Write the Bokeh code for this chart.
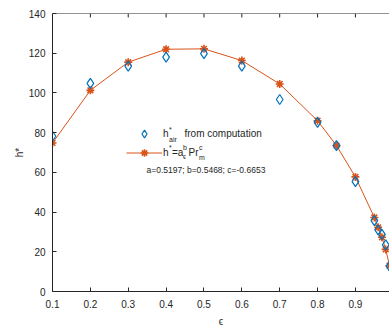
from bokeh.plotting import figure
from bokeh.models import (LinearAxis, FixedTicker, Label, Legend, LegendItem, Range1d, Span)
from bokeh.embed import file_html
from bokeh.resources import INLINE

# ---- data ----
eps = [0.1, 0.2, 0.3, 0.4, 0.5, 0.6, 0.7, 0.8, 0.85, 0.9, 0.95, 0.96, 0.97, 0.98, 0.99]
h_comp = [78.2, 104.8, 113.5, 118.0, 119.8, 113.5, 96.7, 85.2, 73.5, 55.3, 35.7, 31.0, 28.8, 23.5, 12.8]
h_fit = [74.8, 101.3, 115.5, 122.0, 122.2, 116.3, 104.5, 86.0, 73.5, 57.7, 37.3, 32.3, 27.3, 21.2, 13.0]
x_ticks = [0.1, 0.2, 0.3, 0.4, 0.5, 0.6, 0.7, 0.8, 0.9]
y_ticks = [0, 20, 40, 60, 80, 100, 120, 140]
x_label = "\u03f5"
y_label = "h*"
fit_text = "a=0.5197; b=0.5468; c=-0.6653"

W, H = 389, 329
FONT = "Liberation Sans"
AX = "#262626"
BLUE = "#0072BD"
ORANGE = "#D95319"
FL, FB = 52, 293   # frame left / bottom in page pixels

p = figure(width=W, height=H, output_backend="svg", toolbar_location=None,
           x_range=Range1d(0.1, 0.99), y_range=Range1d(0, 140),
           x_axis_location=None, y_axis_location=None,
           min_border_left=FL, min_border_right=0, min_border_top=13, min_border_bottom=H - FB)
p.outline_line_color = None
p.xgrid.visible = False
p.ygrid.visible = False
p.background_fill_color = "white"
p.border_fill_color = "white"

def style_axis(ax):
    ax.axis_line_color = AX
    ax.axis_line_width = 1
    ax.major_tick_line_color = AX
    ax.major_tick_in = 4
    ax.major_tick_out = 0
    ax.minor_tick_line_color = None
    ax.major_label_text_font = FONT
    ax.major_label_text_color = AX
    ax.major_label_text_font_size = "10px"
    ax.axis_label_text_font = FONT
    ax.axis_label_text_color = AX
    ax.axis_label_text_font_style = "normal"
    ax.axis_label_text_font_size = "10px"

xb = LinearAxis(ticker=FixedTicker(ticks=x_ticks), axis_label=x_label)
style_axis(xb)
xb.major_label_standoff = 8
xb.axis_label_standoff = 5
xb.major_label_overrides = {t: f"{t:g}" for t in x_ticks}
p.add_layout(xb, "below")

yl = LinearAxis(ticker=FixedTicker(ticks=y_ticks), axis_label=y_label)
style_axis(yl)
yl.major_label_standoff = 7
yl.axis_label_standoff = 1
p.add_layout(yl, "left")

# box on top: axis line with inward ticks at the x tick positions
top = y_ticks[-1]
p.add_layout(Span(location=top, dimension="width", line_color=AX, line_width=1))
p.segment(x0=x_ticks, y0=[top] * len(x_ticks), x1=x_ticks, y1=[top - 2] * len(x_ticks),
          line_color=AX, line_width=1)

r_fit_line = p.line(eps, h_fit, line_color=ORANGE, line_width=1)
r_fit_mark = p.scatter(eps, h_fit, marker="asterisk", size=8, line_color=ORANGE, line_width=1.6)
r_comp = p.scatter(eps, h_comp, marker="diamond", size=10, line_color=BLUE, fill_color=None, line_width=1.2)

legend = Legend(items=[LegendItem(label="h", renderers=[r_comp]),
                       LegendItem(label="h", renderers=[r_fit_line, r_fit_mark])],
                location=(74, 129.5), glyph_width=36, glyph_height=19, label_height=19,
                spacing=0, padding=0, margin=0, label_standoff=1, label_width=0,
                border_line_color=None, background_fill_alpha=0,
                label_text_font=FONT, label_text_font_size="10px", label_text_color=AX)
p.add_layout(legend, "center")

def lab(px, py, text, size="10px"):
    # px, py: page pixel position of the left edge / vertical middle of the text
    p.add_layout(Label(x=px - FL, y=FB - py, x_units="screen", y_units="screen",
                       text=text, text_font=FONT, text_font_size=size, text_color=AX,
                       text_baseline="middle", text_align="left"))

# legend line 1: h^*_{air} from computation
lab(168.5, 130.5, "*", "7px")
lab(168.5, 140.5, "air", "7px")
lab(184, 135, "from computation")
# legend line 2: h^*=a_eps^b Pr_m^c
lab(168.5, 149, "*", "7px")
lab(171.5, 153.5, "=a")
lab(182.6, 158, "\u03f5", "7px")
lab(182.6, 149, "b", "7px")
lab(188, 153.5, "Pr")
lab(198.5, 149, "c", "7px")
lab(198.5, 158.5, "m", "7px")
# fit parameters
lab(146, 171, fit_text, "8.5px")

open("out.html", "w").write(file_html(p, INLINE))
